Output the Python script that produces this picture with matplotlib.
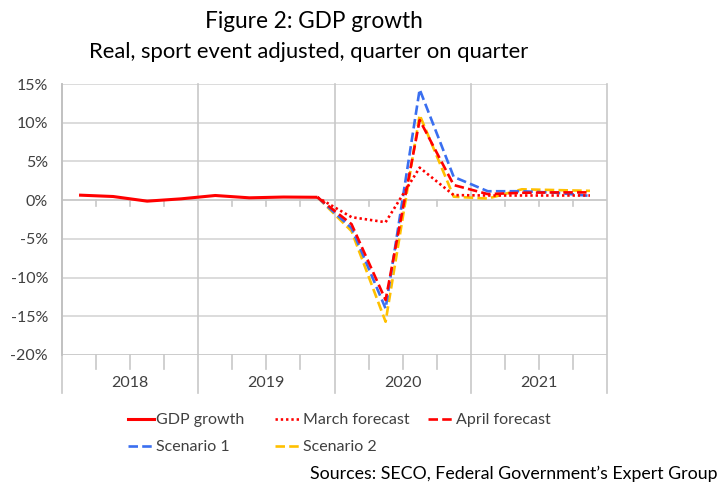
import matplotlib
matplotlib.use("Agg")
import matplotlib.pyplot as plt
from matplotlib.lines import Line2D
import numpy as np

plt.rcParams['font.family'] = ['Lato', 'DejaVu Sans']

years = ["2018", "2019", "2020", "2021"]
# quarterly q/q growth, % (2018Q1 .. 2021Q4)
gdp_growth = [0.65, 0.47, -0.13, 0.17, 0.6, 0.3, 0.4, 0.37]  # 2018Q1..2019Q4
# forecasts from 2019Q4 .. 2021Q4
march_forecast = [0.37, -2.2, -2.85, 4.2, 0.65, 0.6, 0.6, 0.6, 0.6]
april_forecast = [0.37, -3.1, -12.9, 10.35, 1.95, 0.78, 0.95, 1.0, 1.0]
scenario_1 = [0.37, -3.6, -14.0, 14.3, 3.0, 1.15, 1.15, 0.95, 0.55]
scenario_2 = [0.37, -4.0, -15.7, 11.0, 0.45, 0.2, 1.4, 1.3, 1.2]
y_ticks = [15, 10, 5, 0, -5, -10, -15, -20]

W, H = 720, 486
fig = plt.figure(figsize=(W / 100, H / 100), dpi=100)
L, R, T, B = 62, 607, 84, 355
ax = fig.add_axes([L / W, 1 - B / H, (R - L) / W, (B - T) / H])

nq = 4 * len(years)
x_all = np.arange(nq)
x_hist = x_all[:len(gdp_growth)]
x_fc = x_all[len(gdp_growth) - 1:]

red = "#FF0000"
blue = "#3A6FF0"
yellow = "#FFC000"
lw = 1.9

ax.plot(x_fc, scenario_2, color=yellow, lw=lw, dashes=(3.6, 1.6), zorder=3)
ax.plot(x_fc, scenario_1, color=blue, lw=lw, dashes=(3.6, 1.6), zorder=4)
ax.plot(x_fc, april_forecast, color=red, lw=lw, dashes=(3.6, 1.6), zorder=5)
ax.plot(x_fc, march_forecast, color=red, lw=lw, dashes=(0.9, 1.1), zorder=6)
ax.plot(x_hist, gdp_growth, color=red, lw=2.2, solid_capstyle='butt', zorder=7)

ax.set_xlim(-0.5, nq - 0.5)
ax.set_ylim(-20, 15)
ax.set_yticks(y_ticks)
ax.set_yticklabels([f"{v}%" for v in y_ticks], fontsize=11.5, color="#404040")
ax.tick_params(axis='y', length=0, pad=10)
ax.set_xticks([])
for s in ['top', 'right', 'bottom']:
    ax.spines[s].set_visible(False)
ax.spines['left'].set_color("#BFBFBF")
ax.spines['left'].set_linewidth(1.2)

grid_c = "#D9D9D9"
for v in y_ticks:
    ax.axhline(v, color=grid_c if v not in (0, -20) else "#C8C8C8", lw=1.3, zorder=1)

# year separators extending below the plot
px = 1.0 / (B - T) * 35  # data units per pixel (vertical)
for i in range(len(years) + 1):
    xb = 4 * i - 0.5
    ax.plot([xb, xb], [15, -20 - 38 * px], color="#C8C8C8", lw=1.2, clip_on=False, zorder=1)
# quarter ticks
for q in range(nq):
    if q % 4 == 0:
        continue
    xb = q - 0.5
    ax.plot([xb, xb], [0, -6 * px], color="#C8C8C8", lw=1.2, clip_on=False, zorder=1)
    ax.plot([xb, xb], [-20, -20 - 14 * px], color="#C8C8C8", lw=1.2, clip_on=False, zorder=1)
for i, yr in enumerate(years):
    ax.text(4 * i + 1.5, -20 - 28 * px, yr, ha='center', va='center', fontsize=11.5,
            color="#404040", clip_on=False)

fig.text(314 / W, 1 - 22 / H, "Figure 2: GDP growth", ha='center', va='center', fontsize=16.3, color="black")
fig.text(309 / W, 1 - 52 / H, "Real, sport event adjusted, quarter on quarter", ha='center', va='center',
         fontsize=15.8, color="black")
fig.text(718 / W, 1 - 474 / H, "Sources: SECO, Federal Government\u2019s Expert Group", ha='right',
         va='center', fontsize=12.8, color="black")

h_gdp = Line2D([], [], color=red, lw=2.2)
h_mar = Line2D([], [], color=red, lw=lw, dashes=(0.9, 1.1))
h_apr = Line2D([], [], color=red, lw=lw, dashes=(3.6, 1.6))
h_s1 = Line2D([], [], color=blue, lw=lw, dashes=(3.6, 1.6))
h_s2 = Line2D([], [], color=yellow, lw=lw, dashes=(3.6, 1.6))

common = dict(frameon=False, fontsize=11.5, handlelength=1.6, handletextpad=0.15, labelspacing=0.8,
              borderpad=0, borderaxespad=0, labelcolor="#404040")
leg1 = fig.legend([h_gdp, h_s1], ["GDP growth", "Scenario 1"], loc='upper left',
                  bbox_to_anchor=(128 / W, 1 - 413 / H), **common)
leg2 = fig.legend([h_mar, h_s2], ["March forecast", "Scenario 2"], loc='upper left',
                  bbox_to_anchor=(275 / W, 1 - 413 / H), **common)
leg3 = fig.legend([h_apr], ["April forecast"], loc='upper left',
                  bbox_to_anchor=(428 / W, 1 - 413 / H), **common)

fig.savefig("out.png", dpi=100)
